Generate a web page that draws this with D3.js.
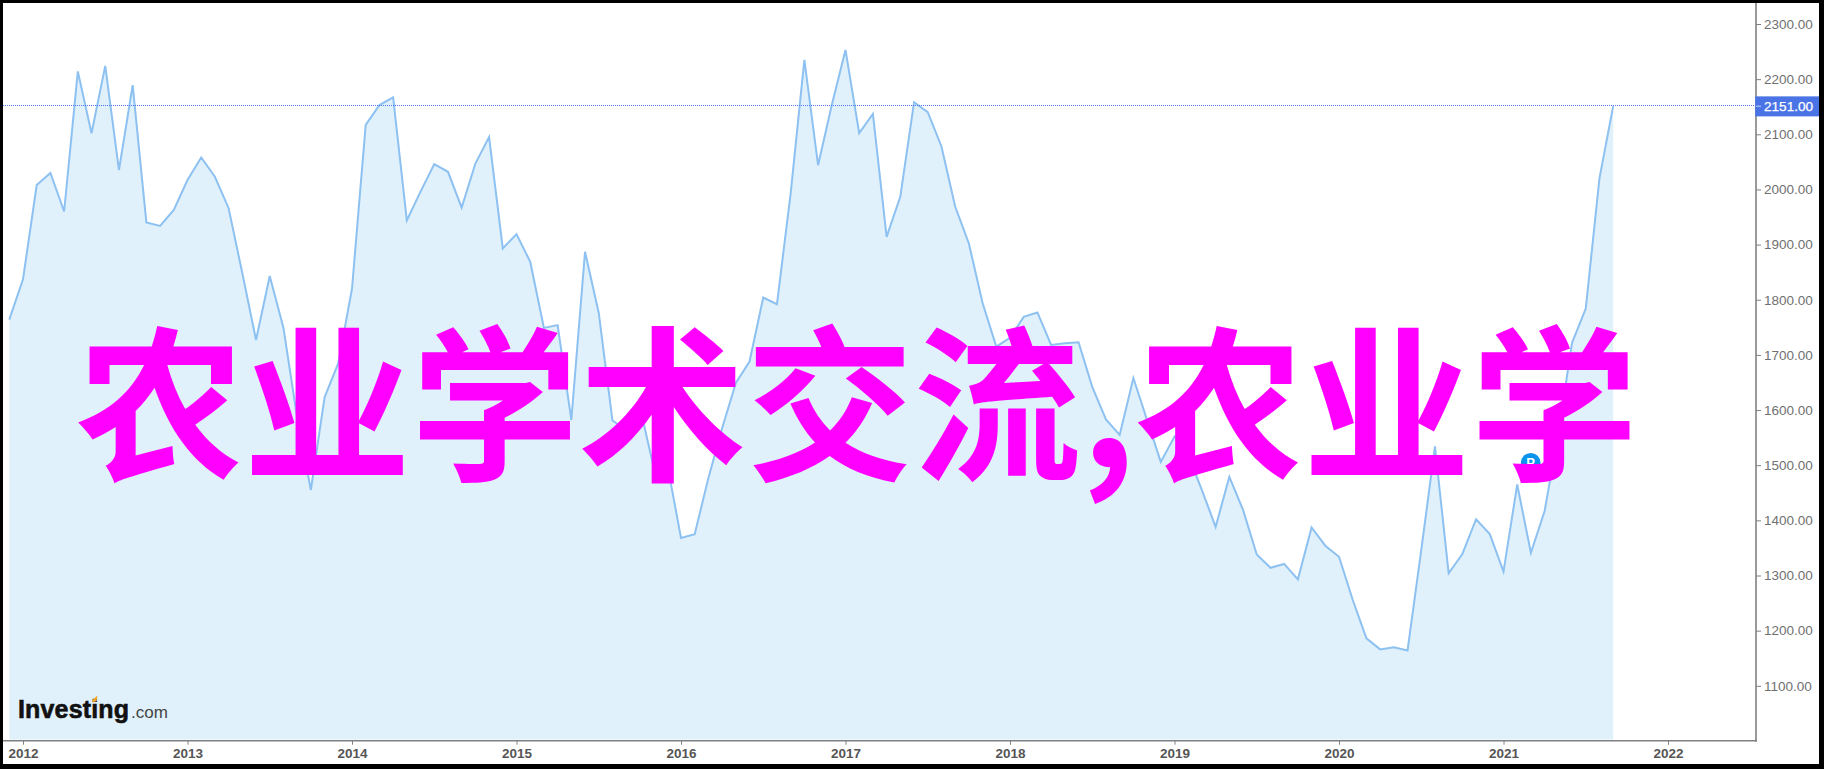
<!DOCTYPE html>
<html>
<head>
<meta charset="utf-8">
<script src="https://cdn.jsdelivr.net/npm/d3@7"></script>
<style>
html,body{margin:0;padding:0;background:#fff;overflow:hidden}
svg{display:block}
</style>
</head>
<body>
<div id="chart"></div>
<script>
const closes = [1764,1837,2008,2030,1960,2214,2102,2224,2035,2189,1940,1934,
1963,2017,2058,2023,1966,1848,1727,1843,1749,1586,1455,1623,
1685,1820,2117,2153,2167,1944,1996,2046,2032,1967,2047,2095,
1893,1919,1869,1749,1754,1582,1887,1776,1581,1564,1606,1497,
1502,1368,1375,1477,1567,1649,1688,1804,1792,1993,2235,2044,
2153,2253,2102,2137,1914,1987,2158,2140,2078,1969,1902,1794,
1715,1731,1769,1777,1718,1721,1723,1642,1583,1555,1658,1582,
1506,1552,1518,1455,1388,1479,1419,1338,1314,1321,1293,1387,
1354,1334,1256,1186,1166,1170,1164,1346,1534,1304,1339,1402,
1375,1307,1465,1341,1417,1558,1722,1784,2020,2151];
const firstMonth = -1;              // December 2011, months counted from January 2012
const years = [2012,2013,2014,2015,2016,2017,2018,2019,2020,2021,2022];
const priceTicks = [2300,2200,2100,2000,1900,1800,1700,1600,1500,1400,1300,1200,1100];
const lastPrice = 2151;
const overlayText = "农业学术交流,农业学";
const brandBold = "Investing";
const brandLight = ".com";

const W = 1824, H = 769;
const svg = d3.select("#chart").append("svg").attr("width", W).attr("height", H);
svg.append("rect").attr("width", W).attr("height", H).attr("fill", "#fff");

const x = d3.scaleLinear().domain([0, 120]).range([23, 1668]);
const y = d3.scaleLinear().domain([1100, 2300]).range([685.8, 24]);
const axisX = 1756, axisY = 740.7, fillBottom = 739.5;

const pts = closes.map((v, i) => [firstMonth + i, v]);

svg.append("path").datum(pts)
  .attr("fill", "#e0f1fb")
  .attr("d", d3.area().x(d => x(d[0])).y0(fillBottom).y1(d => y(d[1])));
svg.append("path").datum(pts)
  .attr("fill", "none").attr("stroke", "#8dc1f1").attr("stroke-width", 2)
  .attr("stroke-linejoin", "miter")
  .attr("d", d3.line().x(d => x(d[0])).y(d => y(d[1])));

// last price line
const lastY = Math.round(y(lastPrice)) - 0.5;
svg.append("line")
  .attr("x1", 3).attr("x2", axisX)
  .attr("y1", lastY).attr("y2", lastY)
  .attr("stroke", "#4f77e6").attr("stroke-width", 1).attr("stroke-dasharray", "1,1");

// logo
const logo = svg.append("g").attr("transform", "translate(18,718)");
logo.append("text").text(brandBold)
  .attr("font-family", "Liberation Sans").attr("font-weight", 700)
  .attr("font-size", 25).attr("fill", "#111").attr("stroke", "#111").attr("stroke-width", 0.6)
  .attr("textLength", 111).attr("lengthAdjust", "spacing");
logo.append("text").text(brandLight).attr("x", 113)
  .attr("font-family", "Liberation Sans").attr("font-size", 17).attr("fill", "#444");
logo.append("path").attr("d", "M75,-18.5 L79.5,-22.5 L78.5,-17 L75,-15.5 Z").attr("fill", "#f5a623");

// P marker
const pMark = svg.append("g").attr("transform", "translate(1530.7,462.7)");
pMark.append("circle").attr("r", 9.8).attr("fill", "#0a94ee");
pMark.append("text").text("P").attr("text-anchor", "middle").attr("y", 4.5)
  .attr("font-family", "Liberation Sans").attr("font-weight", 700)
  .attr("font-size", 13).attr("fill", "#fff");

// axes
const gr = svg.append("g").attr("transform", `translate(${axisX},0)`)
  .call(d3.axisRight(y).tickValues(priceTicks).tickFormat(d3.format(".2f")).tickSize(5).tickPadding(3));
gr.select(".domain").remove();
gr.selectAll(".tick line").attr("stroke", "#808080").attr("stroke-width", 1);
gr.selectAll(".tick text").attr("font-family", "Liberation Sans").attr("font-size", 13.5).attr("fill", "#707070");

const gb = svg.append("g").attr("transform", `translate(0,${axisY})`)
  .call(d3.axisBottom(x).tickValues(years.map(yr => (yr - 2012) * 12))
    .tickFormat(m => String(years[m / 12])).tickSize(4).tickPadding(4));
gb.select(".domain").remove();
gb.selectAll(".tick line").attr("stroke", "#808080").attr("stroke-width", 1);
gb.selectAll(".tick text").attr("font-family", "Liberation Sans").attr("font-weight", 700)
  .attr("font-size", 13.5).attr("fill", "#555");

svg.append("line").attr("x1", axisX).attr("x2", axisX).attr("y1", 3).attr("y2", axisY + 1)
  .attr("stroke", "#808080").attr("stroke-width", 1.6);
svg.append("line").attr("x1", 3).attr("x2", axisX + 0.8).attr("y1", axisY).attr("y2", axisY)
  .attr("stroke", "#808080").attr("stroke-width", 1.6);

// last price tag
svg.append("rect").attr("x", axisX - 0.8).attr("y", y(lastPrice) - 9.8).attr("width", 64).attr("height", 20).attr("fill", "#4a74e6");
svg.append("line").attr("x1", axisX).attr("x2", axisX + 5).attr("y1", y(lastPrice)).attr("y2", y(lastPrice)).attr("stroke", "#c9d6f7");
svg.append("text").text(d3.format(".2f")(lastPrice))
  .attr("x", axisX + 8).attr("y", y(lastPrice) + 5)
  .attr("font-family", "Liberation Sans").attr("font-size", 13.6).attr("fill", "#fff")
  .attr("stroke", "#fff").attr("stroke-width", 0.25);

// black frame
svg.append("path").attr("fill", "#000").attr("fill-rule", "evenodd")
  .attr("d", `M0,0H${W}V${H}H0Z M3,3V764H1819V3Z`);

// overlay
svg.append("text").text(overlayText)
  .attr("x", 76).attr("y", 467.5)
  .attr("font-family", "Noto Sans CJK SC").attr("font-weight", 700)
  .attr("font-size", 167.5).attr("fill", "#ff00ff");
</script>
</body>
</html>
